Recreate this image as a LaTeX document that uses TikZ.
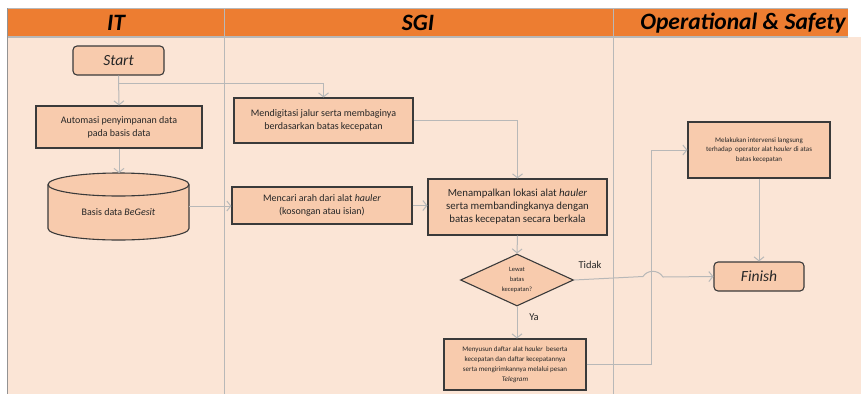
\documentclass[tikz,border=0pt]{standalone}
\usepackage{fontspec}
\setmainfont{Carlito}
\usetikzlibrary{arrows.meta,shapes.geometric}
\definecolor{hdr}{HTML}{ED7D31}
\definecolor{lanebg}{HTML}{FBE5D6}
\definecolor{boxfill}{HTML}{F8CBAD}
\definecolor{edge}{HTML}{3A3A3A}
\definecolor{wire}{HTML}{B8B8B8}
\definecolor{rule}{HTML}{B8B8B8}
\definecolor{ink}{HTML}{262626}

\begin{document}
\begin{tikzpicture}[x=1pt,y=-1pt,
  proc/.style={draw=edge, fill=boxfill, line width=1.1pt, align=center,
    inner sep=1pt, text=ink, font=\fontsize{10}{13}\selectfont},
  term/.style={proc, rounded corners=4pt, font=\fontsize{15.5}{17}\selectfont\itshape},
  small/.style={font=\fontsize{7}{9.8}\selectfont},
  flow/.style={draw=wire, line width=1pt, -{Straight Barb[length=4pt,width=10pt]}},
  lanehead/.style={font=\fontsize{23.5}{26}\selectfont\bfseries\itshape, text=black},
  lbl/.style={font=\fontsize{10.5}{12}\selectfont, text=ink}]
\useasboundingbox (0,0) rectangle (861,394);

% swimlane frame
\fill[white] (0,0) rectangle (861,394);
\fill[lanebg] (7,37) rectangle (861,394);
\fill[hdr] (7,8) rectangle (848,37);
\draw[rule, line width=1pt] (7,8) -- (848,8);
\draw[rule, line width=1.2pt] (7,37) -- (848,37);
\draw[rule!80!black, line width=1pt] (7,8) -- (7,394);
\draw[rule, line width=1pt] (224,8) -- (224,394);
\draw[rule, line width=1pt] (613,8) -- (613,394);

\node[lanehead] (hIT) at (116,23) {IT};
\node[lanehead] (hSGI) at (418,23) {SGI};
\node[lanehead] (hOps) at (743,23) {Operational \& Safety};

% IT lane
\node[term, minimum width=91pt, minimum height=29pt] (start) at (118.5,60.5) {Start};
\node[proc, minimum width=166pt, minimum height=42pt] (auto) at (119,127)
  {Automasi penyimpanan data\\pada basis data};

% database cylinder
\fill[boxfill] (48,184.5) -- (48,228.5)
  arc[start angle=180, end angle=0, x radius=70.5, y radius=11.5]
  -- (189,184.5)
  arc[start angle=0, end angle=-180, x radius=70.5, y radius=11.5] -- cycle;
\draw[edge, line width=1.1pt] (48,184.5) -- (48,228.5)
  arc[start angle=180, end angle=0, x radius=70.5, y radius=11.5]
  -- (189,184.5);
\draw[edge, line width=1.1pt] (118.5,184.5) ellipse[x radius=70.5, y radius=11.5];
\node[text=ink, font=\fontsize{10}{13}\selectfont] (db) at (118.5,212) {Basis data \textit{BeGesit}};
\coordinate (dbR) at (189,206);
\coordinate (dbT) at (119,173);

% SGI lane
\node[proc, minimum width=179pt, minimum height=45pt] (digit) at (323.5,120.5)
  {Mendigitasi jalur serta membaginya\\berdasarkan batas kecepatan};
\node[proc, minimum width=180pt, minimum height=37pt] (cari) at (322,205.5)
  {Mencari arah dari alat \textit{hauler}\\(kosongan atau isian)};
\node[proc, minimum width=179pt, minimum height=56pt, font=\fontsize{10.8}{13}\selectfont] (tampil) at (517.5,207)
  {Menampalkan lokasi alat \textit{hauler}\\serta membandingkanya dengan\\batas kecepatan secara berkala};
\node[draw=edge, fill=boxfill, line width=1.1pt, diamond, aspect=2.2, inner sep=0pt,
  minimum width=113pt, minimum height=52pt, align=center, text=ink,
  font=\fontsize{6.5}{10}\selectfont] (dec) at (517,280) {Lewat\\batas\\kecepatan?};
\node[proc, small, minimum width=142pt, minimum height=51pt] (susun) at (515,364.5)
  {Menyusun daftar alat \textit{hauler}\ \ beserta\\kecepatan dan daftar kecepatannya\\serta mengirimkannya melalui pesan\\\textit{Telegram}};

% Operational & Safety lane
\node[proc, small, minimum width=142pt, minimum height=56pt] (act) at (759,150)
  {Melakukan intervensi langsung\\terhadap\ \ operator alat \textit{hauler} di atas\\batas kecepatan};
\node[term, minimum width=90pt, minimum height=29pt] (finish) at (759,276.5) {Finish};

\node[lbl] (tidak) at (590,265) {Tidak};
\node[lbl] (ya) at (534,317) {Ya};

% connectors
\draw[flow] (start.south) -- (auto.north);
\draw[flow] (start.south) ++(0,8) -| (digit.north);
\draw[flow] (auto.south) -- (dbT);
\draw[flow] (dbR) -- (dbR -| cari.west);
\draw[flow] (digit.east) -| (tampil.north);
\draw[flow] (cari.east) -- (cari.east -| tampil.west);
\draw[flow] (tampil.south) -- (dec.north);
\draw[flow] (dec.south) -- (dec.south |- susun.north);
\draw[flow] (susun.east) -- ++(65,0) |- (act.west);
\draw[flow] (act.south) -- (finish.north);
\draw[flow] (dec.east) -- (643,276.5) .. controls (647,270) and (658,269) .. (663,277)
  -- (finish.west);
\end{tikzpicture}
\end{document}
